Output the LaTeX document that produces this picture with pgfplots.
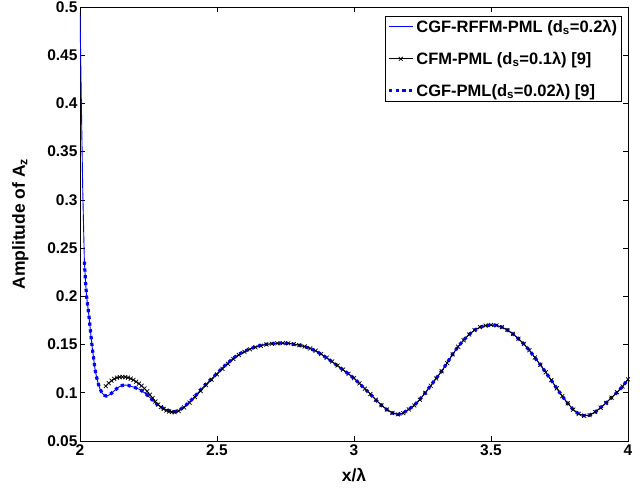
\documentclass[border=0pt]{standalone}
\usepackage{fontspec}
\setmainfont{Liberation Sans}
\usepackage{pgfplots}
\pgfplotsset{compat=1.18}
\usepackage{pgfplotstable}

\newcommand\tf{\fontsize{15.5bp}{18bp}\selectfont\bfseries}
\newcommand\lf{\fontsize{17.5bp}{20bp}\selectfont\bfseries}
\newcommand\gf{\fontsize{16.5bp}{19bp}\selectfont\bfseries}

% CGF-RFFM-PML and CGF-PML (same curve)
\pgfplotstableread{
x y
2.000 0.494
2.005 0.400
2.010 0.310
2.016 0.236
2.020 0.216
2.024 0.200
2.030 0.186
2.034 0.176
2.040 0.159
2.045 0.146
2.050 0.135
2.055 0.124
2.060 0.117
2.066 0.110
2.073 0.104
2.080 0.1000
2.088 0.0975
2.097 0.0966
2.105 0.0975
2.115 0.0995
2.125 0.1020
2.135 0.1045
2.145 0.1065
2.155 0.1077
2.165 0.1080
2.175 0.1077
2.185 0.1068
2.200 0.1055
2.220 0.1032
2.240 0.0990
2.260 0.0938
2.280 0.0882
2.300 0.0845
2.320 0.0818
2.340 0.0800
2.36 0.0815
2.38 0.0855
2.40 0.0905
2.42 0.0965
2.44 0.1030
2.46 0.1090
2.48 0.1145
2.50 0.1200
2.52 0.1260
2.54 0.1310
2.56 0.1360
2.58 0.1400
2.60 0.1430
2.62 0.1455
2.64 0.1475
2.66 0.1492
2.68 0.1503
2.70 0.1510
2.72 0.1514
2.74 0.1515
2.76 0.1512
2.78 0.1503
2.80 0.1492
2.82 0.1478
2.84 0.1458
2.86 0.1435
2.88 0.1400
2.90 0.1362
2.92 0.1322
2.94 0.1280
2.96 0.1238
2.98 0.1195
3.00 0.1150
3.02 0.1095
3.04 0.1040
3.06 0.0985
3.08 0.0925
3.10 0.0870
3.12 0.0825
3.14 0.0790
3.16 0.0775
3.18 0.0790
3.20 0.0830
3.22 0.0870
3.24 0.0930
3.26 0.1000
3.28 0.1075
3.30 0.1150
3.32 0.1225
3.34 0.1310
3.36 0.1400
3.38 0.1480
3.40 0.1545
3.42 0.1605
3.44 0.1650
3.46 0.1680
3.48 0.1697
3.50 0.1703
3.52 0.1698
3.54 0.1680
3.56 0.1650
3.58 0.1610
3.60 0.1560
3.62 0.1505
3.64 0.1440
3.66 0.1365
3.68 0.1290
3.70 0.1210
3.72 0.1130
3.74 0.1045
3.76 0.0965
3.78 0.0890
3.80 0.0825
3.82 0.0780
3.84 0.0762
3.86 0.0768
3.88 0.0800
3.90 0.0845
3.92 0.0895
3.94 0.0950
3.96 0.1005
3.98 0.1065
4.00 0.1140
}\cgfdata

% CFM-PML
\pgfplotstableread{
x y
2.094 0.1068
2.105 0.1100
2.115 0.1125
2.125 0.1145
2.135 0.1156
2.145 0.1162
2.155 0.1164
2.165 0.1163
2.175 0.1157
2.185 0.1147
2.195 0.1133
2.205 0.1115
2.215 0.1095
2.225 0.1072
2.235 0.1045
2.245 0.1015
2.255 0.0980
2.265 0.0945
2.275 0.0910
2.285 0.0878
2.295 0.0852
2.305 0.0832
2.315 0.0816
2.325 0.0806
2.335 0.0800
2.345 0.0799
2.36 0.0810
2.38 0.0848
2.40 0.0898
2.42 0.0955
2.44 0.1018
2.46 0.1078
2.48 0.1135
2.50 0.1190
2.52 0.1248
2.54 0.1300
2.56 0.1350
2.58 0.1392
2.60 0.1424
2.62 0.1450
2.64 0.1471
2.66 0.1488
2.68 0.1500
2.70 0.1508
2.72 0.1513
2.74 0.1515
2.76 0.1513
2.78 0.1505
2.80 0.1494
2.82 0.1480
2.84 0.1460
2.86 0.1436
2.88 0.1402
2.90 0.1364
2.92 0.1324
2.94 0.1282
2.96 0.1240
2.98 0.1197
3.00 0.1152
3.02 0.1098
3.04 0.1042
3.06 0.0987
3.08 0.0927
3.10 0.0872
3.12 0.0826
3.14 0.0791
3.16 0.0776
3.18 0.0788
3.20 0.0828
3.22 0.0868
3.24 0.0928
3.26 0.0998
3.28 0.1073
3.30 0.1148
3.32 0.1223
3.34 0.1308
3.36 0.1398
3.38 0.1478
3.40 0.1544
3.42 0.1604
3.44 0.1650
3.46 0.1680
3.48 0.1697
3.50 0.1703
3.52 0.1698
3.54 0.1681
3.56 0.1651
3.58 0.1611
3.60 0.1561
3.62 0.1506
3.64 0.1441
3.66 0.1366
3.68 0.1291
3.70 0.1211
3.72 0.1131
3.74 0.1046
3.76 0.0966
3.78 0.0891
3.80 0.0826
3.82 0.0781
3.84 0.0762
3.86 0.0768
3.88 0.0800
3.90 0.0845
3.92 0.0895
3.94 0.0950
3.96 0.1005
3.98 0.1065
4.00 0.1140
}\cfmdata

\begin{document}
\begin{tikzpicture}
\begin{axis}[
    name=ax,
    scale only axis,
    width=548bp, height=434bp,
    xmin=2, xmax=4,
    ymin=0.05, ymax=0.5,
    xtick={2,2.5,3,3.5,4},
    ytick={0.05,0.1,0.15,0.2,0.25,0.3,0.35,0.4,0.45,0.5},
    tick align=inside,
    major tick length=5bp,
    axis line style={line width=0.6bp},
    every tick/.style={black, line width=0.6bp},
    tick label style={font=\tf},
    yticklabel style={xshift=1bp},
    label style={font=\lf},
    /pgf/number format/assume math mode=true,
    /pgf/number format/fixed,
    /pgf/number format/precision=2,
    xlabel={x/λ},
    ylabel={Amplitude of A\textsubscript{z}},
    xlabel style={at={(axis description cs:0.5,-0.078)}, anchor=center},
    ylabel style={at={(axis description cs:-0.109,0.5)}, anchor=center},
    legend style={at={(0.988,0.98)}, anchor=north east, draw=black,
        line width=0.6bp, fill=white, font=\gf, inner sep=2bp,
        row sep=14bp},
    legend cell align=left,
    legend image code/.code={%
        \draw[mark repeat=2,mark phase=2,#1]
        plot coordinates {(0bp,0bp) (12bp,0bp) (24bp,0bp)};},
]
\addplot[draw=blue, line width=0.9bp, no marks] table {\cgfdata};
\addlegendentry{CGF-RFFM-PML (d\textsubscript{s}=0.2λ)}

\addplot[draw=black, line width=0.8bp, mark=x, mark size=2.8bp,
    mark options={draw=black, line width=0.7bp}] table {\cfmdata};
\addlegendentry{CFM-PML (d\textsubscript{s}=0.1λ) [9]}

\addplot[draw=blue, line width=3.2bp, dash pattern=on 3.2bp off 3.6bp, no marks,
    restrict x to domain=2.015:4] table {\cgfdata};
\addlegendentry{CGF-PML(d\textsubscript{s}=0.02λ) [9]}
\end{axis}
\pgfresetboundingbox
\path[use as bounding box] ([shift={(-80bp,-48bp)}]ax.south west)
    rectangle ([shift={(14bp,7bp)}]ax.north east);
\end{tikzpicture}
\end{document}
